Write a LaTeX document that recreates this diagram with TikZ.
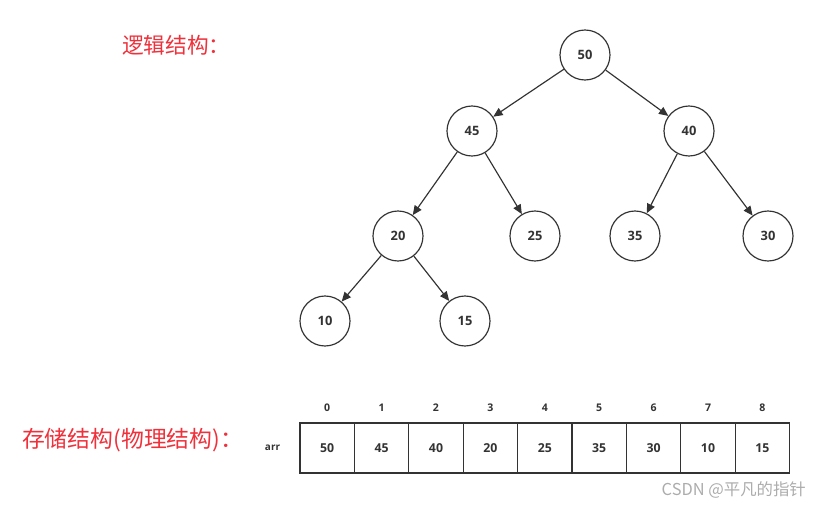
\documentclass[tikz,border=0pt]{standalone}
\usepackage{fontspec}
\setmainfont{Open Sans}
\newfontfamily\cjk{Noto Sans CJK SC}
\usetikzlibrary{arrows.meta,positioning}
\definecolor{heapred}{HTML}{F0303A}
\definecolor{inkgray}{HTML}{333333}
\begin{document}
\begin{tikzpicture}[
		x=0.03cm, y=-0.03cm,
		key/.style={circle, draw=inkgray, line width=1pt, minimum size=50*0.03cm, inner sep=0pt, font=\fontsize{11}{12}\selectfont\bfseries, text=inkgray},
		edge/.style={draw=inkgray, line width=1pt, -{Triangle[length=8pt, width=7pt]}},
		cell/.style={draw=inkgray, line width=1pt, minimum width=54.4*0.03cm, minimum height=50*0.03cm, inner sep=0pt, font=\fontsize{10.5}{12}\selectfont\bfseries, text=inkgray},
		index/.style={font=\fontsize{9}{10}\selectfont\bfseries, text=inkgray},
		heading/.style={text=heapred, font=\cjk\fontsize{18.5}{22}\selectfont, anchor=west}
		]
		\useasboundingbox (0,0) rectangle (823,507);
		
		% ---------------------------------------------------------
		% Logical structure: the heap as a tree
		% ---------------------------------------------------------
		\node[heading] (logic) at (118, 45) {逻辑结构：};
		
		\node[key] (n50) at (585, 55) {50};
		\node[key] (n45) at (472, 131) {45};
		\node[key] (n40) at (689, 131) {40};
		\node[key] (n20) at (398, 236) {20};
		\node[key] (n25) at (535, 236) {25};
		\node[key] (n35) at (635, 236) {35};
		\node[key] (n30) at (768, 236) {30};
		\node[key] (n10) at (325, 321) {10};
		\node[key] (n15) at (465, 321) {15};
		
		% parent -> child
		\foreach \p/\c in {50/45, 50/40, 45/20, 45/25, 40/35, 40/30, 20/10, 20/15} {
			\draw[edge] (n\p) -- (n\c);
		}
		
		% ---------------------------------------------------------
		% Storage structure: the same heap in an array
		% ---------------------------------------------------------
		\node[heading, font=\cjk\fontsize{19.5}{22}\selectfont] (store) at (18, 440) {存储结构(物理结构)：};
		
		\foreach \i/\v in {0/50, 1/45, 2/40, 3/20, 4/25, 5/35, 6/30, 7/10, 8/15} {
			\node[cell] (cell\i) at (327.2+54.4*\i, 448) {\v};
			\node[index] (idx\i) at (327.2+54.4*\i, 408) {\i};
		}
		\node[index, left=13pt of cell0, font=\fontsize{8.5}{10}\selectfont\bfseries] (arr) {arr};
		
		% watermark
		\node[text=gray!65, font=\cjk\fontsize{14}{16}\selectfont, anchor=east] (mark) at (810, 490) {CSDN @平凡的指针};
		
	\end{tikzpicture}
\end{document}
